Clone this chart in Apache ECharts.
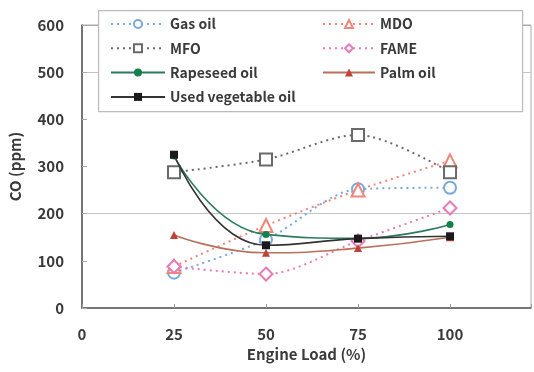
<!DOCTYPE html>
<html>
<head>
<meta charset="utf-8">
<script src="https://cdn.jsdelivr.net/npm/echarts@6/dist/echarts.min.js"></script>
<style>
  html, body { margin: 0; padding: 0; background: #fff; }
  #chart { width: 534px; height: 372px; }
</style>
</head>
<body>
<div id="chart"></div>
<script>
// Engine load (%) at which CO was measured
const loads = [25, 50, 75, 100];

// CO emissions (ppm) per fuel
const gasOil = [75, 145, 252, 255];
const mdo = [88, 175, 250, 312];
const mfo = [288, 315, 367, 288];
const fame = [88, 72, 142, 212];
const rapeseedOil = [322, 156, 148, 177];
const palmOil = [155, 117, 127, 150];
const usedVegOil = [325, 133, 147, 152];

const xTicks = [0, 25, 50, 75, 100];

const FONT = '"Noto Sans CJK JP", "Noto Sans", sans-serif';
const TEXT = '#3a3a3a';

function pairs(ys) {
  return loads.map((x, i) => [x, ys[i]]);
}

function dottedSeries(name, data, color, symbol, size) {
  return {
    name, type: 'line', data: pairs(data),
    smooth: 0.3, smoothConstraint: false,
    symbol, symbolSize: size,
    lineStyle: { color, width: 2, type: [2, 4] },
    itemStyle: { color, borderWidth: 1.5 },
    z: 2
  };
}

function solidSeries(name, data, lineColor, markColor, symbol, size) {
  return {
    name, type: 'line', data: pairs(data),
    smooth: 0.5, smoothConstraint: false,
    symbol, symbolSize: size,
    lineStyle: { color: lineColor, width: 1.6, type: 'solid' },
    itemStyle: { color: markColor },
    z: 3
  };
}

const chart = echarts.init(document.getElementById('chart'), null, { renderer: 'canvas' });

const legendText = { fontFamily: FONT, fontSize: 14, fontWeight: 'bold', color: TEXT };

chart.setOption({
  animation: false,
  backgroundColor: '#fff',
  grid: {
    left: 77, right: 3, top: 25, bottom: 64,
    show: true, borderColor: '#aaa', borderWidth: 1
  },
  graphic: [{
    type: 'rect', left: 98, top: 10, z: 10,
    shape: { width: 424, height: 101 },
    style: { fill: '#fff', stroke: '#bbb', lineWidth: 1.2 }
  }],
  legend: [{
    left: 110, top: 17, orient: 'vertical', z: 11, padding: 0,
    itemWidth: 54, itemHeight: 10, itemGap: 10.3,
    textStyle: legendText,
    data: ['Gas oil', 'MFO', 'Rapeseed oil', 'Used vegetable oil']
  }, {
    left: 322, top: 17, orient: 'vertical', z: 11, padding: 0,
    itemWidth: 52, itemHeight: 10, itemGap: 10.3,
    textStyle: legendText,
    data: ['MDO', 'FAME', 'Palm oil']
  }],
  xAxis: {
    type: 'value', min: 0, max: 122, interval: 25,
    name: 'Engine Load (%)', nameLocation: 'middle', nameGap: 39,
    nameTextStyle: { fontFamily: FONT, fontSize: 15, fontWeight: 'bold', color: TEXT },
    axisLine: { show: true, onZero: false, lineStyle: { color: '#555', width: 1.5 } },
    axisTick: { show: true, inside: true, length: 4, lineStyle: { color: '#999' } },
    axisLabel: {
      margin: 19, fontFamily: FONT, fontSize: 15, fontWeight: 'bold', color: TEXT,
      formatter: v => (xTicks.includes(v) ? String(v) : '')
    },
    splitLine: { show: false }
  },
  yAxis: {
    type: 'value', min: 0, max: 600, interval: 100,
    name: 'CO (ppm)', nameLocation: 'middle', nameGap: 59, nameRotate: 90,
    nameTextStyle: { fontFamily: FONT, fontSize: 15, fontWeight: 'bold', color: TEXT },
    axisLine: { show: true, lineStyle: { color: '#555', width: 1.5 } },
    axisTick: { show: true, inside: true, length: 5, lineStyle: { color: '#aaa' } },
    axisLabel: { margin: 18, fontFamily: FONT, fontSize: 15, fontWeight: 'bold', color: TEXT },
    splitLine: {
      show: true,
      lineStyle: {
        width: 1,
        color: ['transparent', 'transparent', '#c4c4c4', 'transparent', 'transparent', '#c4c4c4', '#aaa']
      }
    }
  },
  series: [
    dottedSeries('Gas oil', gasOil, '#78a8dc', 'emptyCircle', 12),
    dottedSeries('MDO', mdo, '#f0857a', 'emptyTriangle', 13),
    dottedSeries('MFO', mfo, '#6a6a6a', 'emptyRect', 12),
    dottedSeries('FAME', fame, '#e87ab6', 'emptyDiamond', 13),
    solidSeries('Rapeseed oil', rapeseedOil, '#2a7d5c', '#14804a', 'circle', 7),
    solidSeries('Palm oil', palmOil, '#b8705a', '#c0403a', 'triangle', 8),
    solidSeries('Used vegetable oil', usedVegOil, '#333', '#1a1a1a', 'rect', 8)
  ]
});
</script>
</body>
</html>
